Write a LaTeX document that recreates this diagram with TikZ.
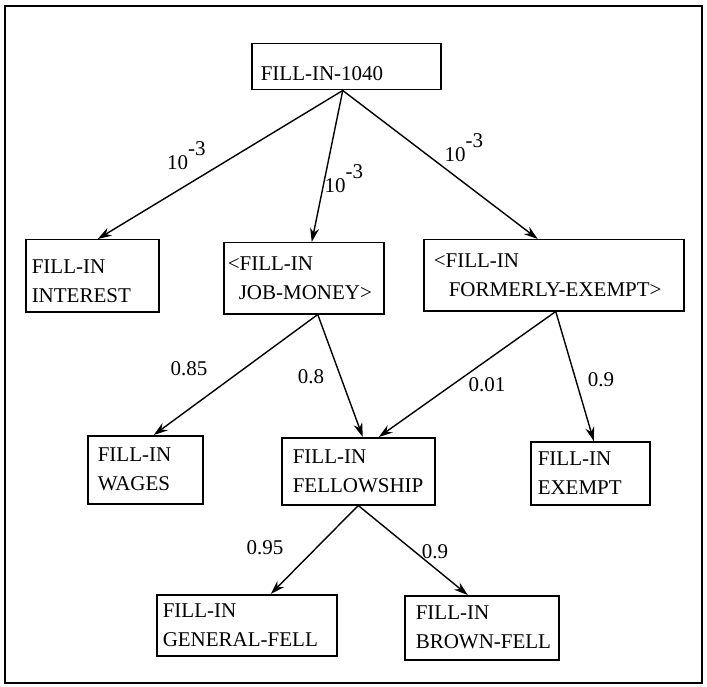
\documentclass[tikz,border=0pt]{standalone}
\usepackage{fontspec}
\setmainfont{Liberation Serif}
\usepackage{tikz}
\usetikzlibrary{arrows.meta, calc, positioning}

\begin{document}
\begin{tikzpicture}[x=1pt, y=-1pt,
    box/.style={draw, line width=1.5pt, anchor=north west, align=left, inner ysep=0pt},
    arr/.style={-{Stealth[length=14pt,width=9pt]}, line width=1.4pt},
    prob/.style={inner sep=0pt},
    font=\fontsize{21}{29}\selectfont]
    \useasboundingbox (0,0) rectangle (707,687);
    % outer frame
    \draw[line width=1.5pt] (5,6) rectangle (702,683);

    % goal and subgoals
    \node[box, inner xsep=9pt, text width=171pt, minimum height=46pt, text height=30pt, text depth=2pt] (form) at (251,43) {FILL-IN-1040};
    \node[box, inner xsep=6pt, text width=121pt, minimum height=72pt] (interest) at (25,239) {\rule{0pt}{24pt}FILL-IN\\INTEREST};
    \node[box, inner xsep=4pt, text width=152pt, minimum height=71pt] (jobmoney) at (223,242) {<FILL-IN\\\hspace*{11pt}JOB-MONEY>};
    \node[box, inner xsep=10pt, text width=240pt, minimum height=71pt] (exempted) at (423,239) {<FILL-IN\\\hspace*{15pt}FORMERLY-EXEMPT>};
    \node[box, inner xsep=10pt, text width=95pt, minimum height=68pt] (wages) at (87,435) {FILL-IN\\WAGES};
    \node[box, inner xsep=11pt, text width=131pt, minimum height=67pt] (fellow) at (281,437) {FILL-IN\\FELLOWSHIP};
    \node[box, inner xsep=7pt, text width=105pt, minimum height=63pt] (exempt) at (530,441) {FILL-IN\\EXEMPT};
    \node[box, inner xsep=6pt, text width=168pt, minimum height=61pt] (general) at (156,594) {FILL-IN\\GENERAL-FELL};
    \node[box, inner xsep=7pt, text width=140pt, minimum height=64pt] (brown) at (404,595) {\hspace*{4pt}FILL-IN\\\hspace*{4pt}BROWN-FELL};

    % links
    \draw[arr] ([xshift=-3.5pt]form.south) -- ([xshift=5.5pt]interest.north);
    \draw[arr] ([xshift=-3.5pt]form.south) -- ([xshift=8pt]jobmoney.north);
    \draw[arr] ([xshift=-3.5pt]form.south) -- ([xshift=-16pt]exempted.north);
    \draw[arr] ([xshift=14pt]jobmoney.south) -- ([xshift=8.5pt]wages.north);
    \draw[arr] ([xshift=14pt]jobmoney.south) -- ([xshift=4.5pt]fellow.north);
    \draw[arr] ([xshift=2pt]exempted.south) -- ([xshift=20.5pt]fellow.north);
    \draw[arr] ([xshift=2pt]exempted.south) -- ([xshift=3.5pt]exempt.north);
    \draw[arr] (fellow.south) -- ([xshift=24pt]general.north);
    \draw[arr] (fellow.south) -- ([xshift=-14pt]brown.north);

    % probabilities
    \node[prob, anchor=base west] (p1) at (167,170) {10\raisebox{14pt}{-3}};
    \node[prob, anchor=base west] (p2) at (324.5,193) {10\raisebox{14pt}{-3}};
    \node[prob, anchor=base west] (p3) at (444.5,162) {10\raisebox{14pt}{-3}};
    \node[prob] (p4) at (189,369) {0.85};
    \node[prob] (p5) at (311,377) {0.8};
    \node[prob] (p6) at (487,385) {0.01};
    \node[prob] (p7) at (601,380) {0.9};
    \node[prob] (p8) at (265,548) {0.95};
    \node[prob] (p9) at (435,552) {0.9};
\end{tikzpicture}
\end{document}
